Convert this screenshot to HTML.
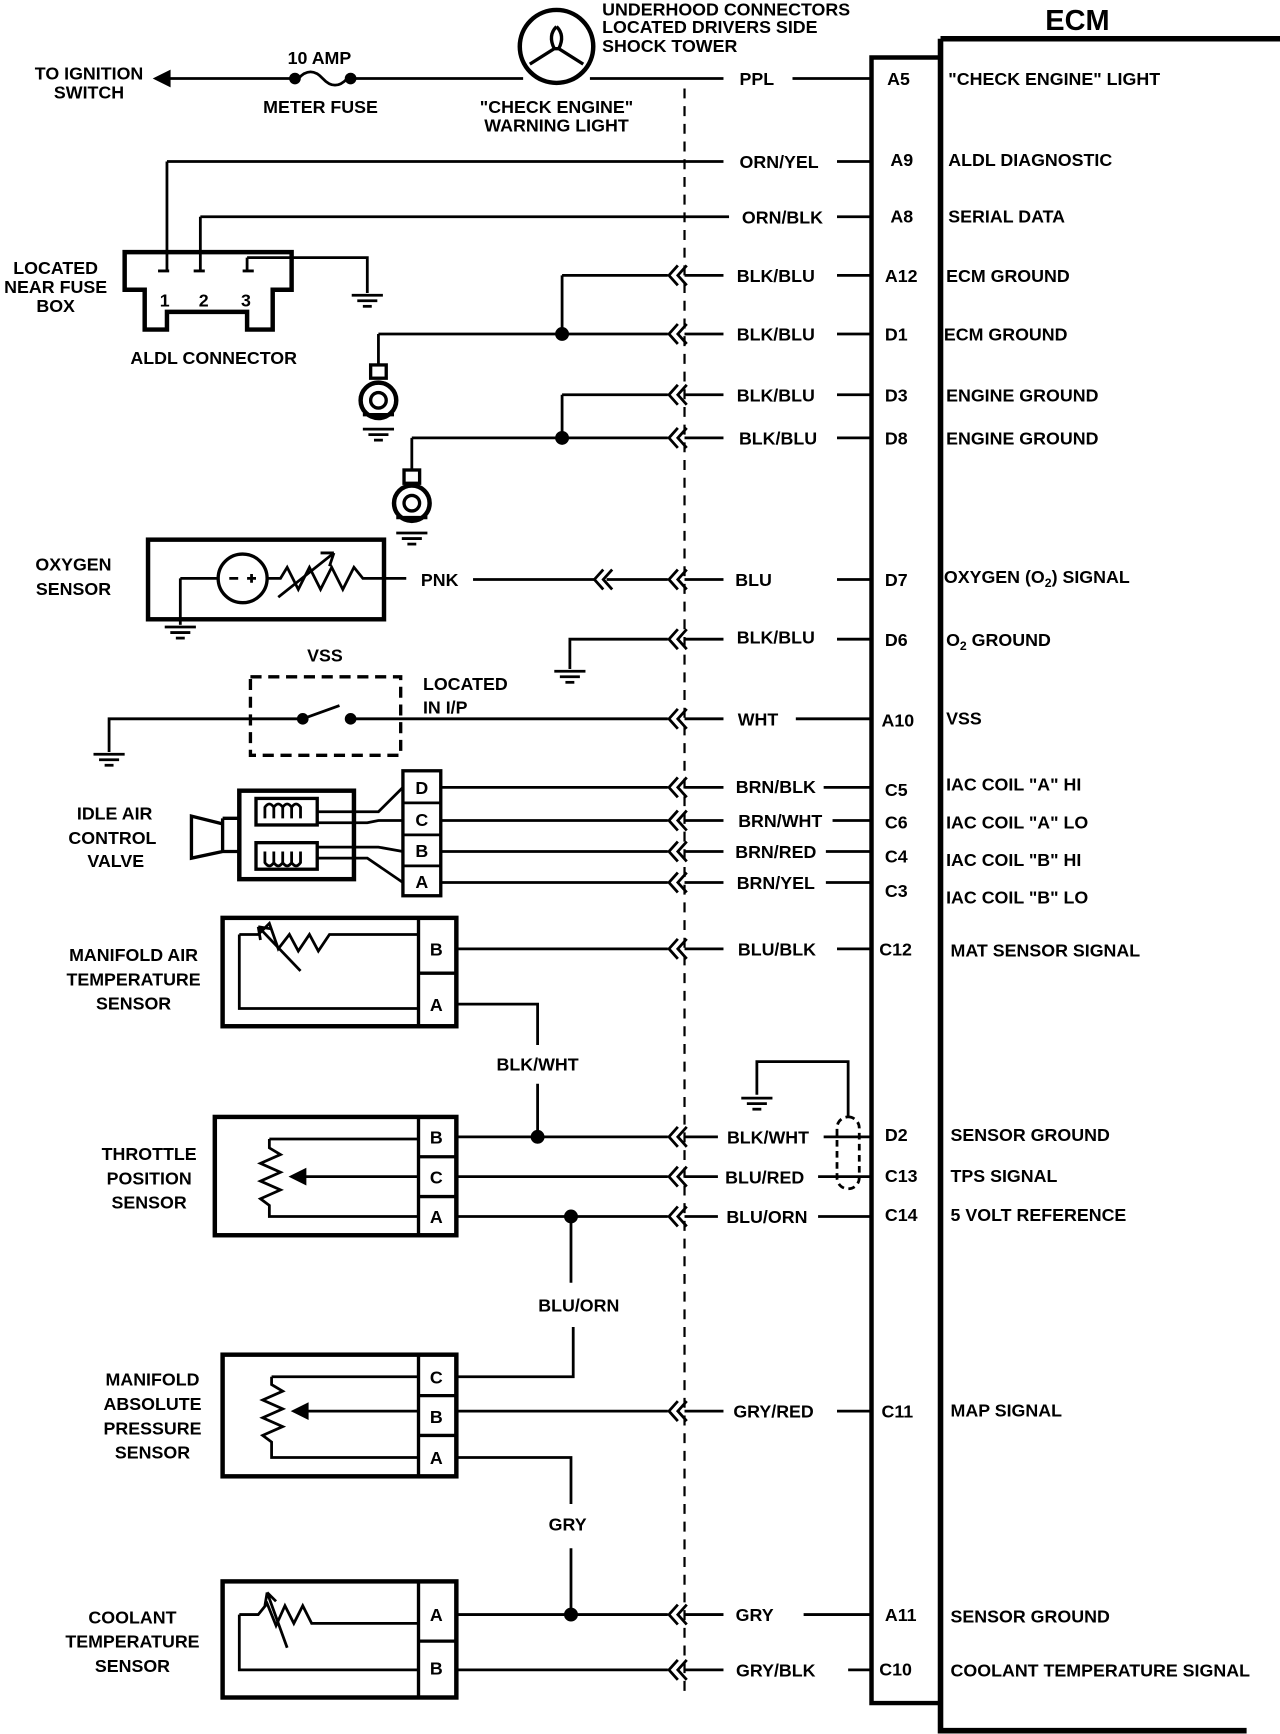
<!DOCTYPE html>
<html><head><meta charset="utf-8"><style>
html,body{margin:0;padding:0;background:#fff;}
svg{display:block;}
text{font-family:"Liberation Sans",sans-serif;font-weight:bold;font-size:16px;fill:#000;}
.m{text-anchor:middle;}
</style></head><body>
<svg width="1280" height="1734" viewBox="0 0 1150 1568" preserveAspectRatio="none" xmlns="http://www.w3.org/2000/svg">
<defs>
<g id="gnd"><line x1="-14" y1="0" x2="14" y2="0" stroke="#000" stroke-width="2.5"/><line x1="-9" y1="5" x2="9" y2="5" stroke="#000" stroke-width="2.5"/><line x1="-4" y1="10" x2="4" y2="10" stroke="#000" stroke-width="2.5"/></g>
<g id="cn"><path d="M-6,-9 L-14,0 L-6,9 M2,-9 L-6,0 L2,9" fill="none" stroke="#000" stroke-width="2.5"/></g>
</defs>
<g stroke="#000" fill="none" stroke-width="2.5">
<!-- ECM -->
<path d="M845,35 H1150 M845,35 V1565 H1120" stroke-width="5"/>
<path d="M845,52 H783 V1540 H845" stroke-width="4"/>
<line x1="615" y1="80" x2="615" y2="1535" stroke-dasharray="9,7" stroke-width="2"/>
<!-- top row -->
<path d="M140,71 H265 M315,71 H470 M530,71 H650 M712,71 H783"/>
<path d="M140,71 l12,-6 v12 z" fill="#000"/>
<circle cx="265" cy="71" r="4" fill="#000"/><circle cx="315" cy="71" r="4" fill="#000"/>
<path d="M268,71 q11,-12 22,0 q11,12 22,0"/>
<circle cx="500" cy="42" r="33" stroke-width="4"/>
<path d="M500,24 q-8,8 -2,20 l-22,14 M500,24 q8,8 2,20 l22,14 M498,44 h4" stroke-width="3"/>
<!-- ALDL -->
<path d="M150,146 H650 M752,146 H783 M180,196 H655 M752,196 H783"/>
<path d="M150,146 V245 M180,196 V245"/>
<path d="M112,228 H262 V262 H245 V298 H222 V282 H150 V298 H130 V262 H112 Z" stroke-width="4"/>
<path d="M142,245 H152 M174,245 H184 M218,245 H228 M222,233 V245 M222,233 H330 V265"/>
<use href="#gnd" x="330" y="267"/>
<!-- grounds rows -->
<path d="M505,249 V302 M340,302 H600 M505,249 H600 M505,357 V396 M370,396 H600 M505,357 H600"/>
<circle cx="505" cy="302" r="5" fill="#000"/><circle cx="505" cy="396" r="5" fill="#000"/>
<path d="M340,302 V330 M370,396 V425"/>
<rect x="333" y="330" width="14" height="12" stroke-width="3"/>
<circle cx="340" cy="362" r="16" stroke-width="4"/><circle cx="340" cy="362" r="7" stroke-width="3"/>
<path d="M326,375 H354" stroke-width="3"/>
<use href="#gnd" x="340" y="388"/>
<rect x="363" y="425" width="14" height="12" stroke-width="3"/>
<circle cx="370" cy="455" r="16" stroke-width="4"/><circle cx="370" cy="455" r="7" stroke-width="3"/>
<path d="M356,468 H384" stroke-width="3"/>
<use href="#gnd" x="370" y="482"/>
<path d="M615,249 H650 M752,249 H783 M615,302 H650 M752,302 H783 M615,357 H650 M752,357 H783 M615,396 H650 M752,396 H783"/>
<!-- O2 -->
<rect x="133" y="488" width="212" height="72" stroke-width="4"/>
<circle cx="218" cy="523" r="22" stroke-width="3"/>
<path d="M162,523 H196 M240,523 L252,523 L258,513 L268,533 L278,513 L288,533 L298,513 L308,533 L318,513 L326,523 L345,523 M345,523 H365"/>
<path d="M250,540 L300,500 M300,500 l-12,0 M300,500 l-4,12"/>
<path d="M206,523 H214 M222,523 H230 M226,519 V527"/>
<path d="M162,523 V565"/><use href="#gnd" x="162" y="567"/>
<path d="M425,524 H535 M545,524 H600 M615,524 H650 M752,524 H783"/>
<!-- D6 -->
<path d="M512,605 V578 H600 M615,578 H650 M752,578 H783"/><use href="#gnd" x="512" y="607"/>
<!-- VSS -->
<rect x="225" y="612" width="135" height="71" stroke-dasharray="10,6" stroke-width="3"/>
<path d="M98,680 V650 H272 M315,650 H600 M615,650 H650 M715,650 H783 M272,650 L305,638"/>
<circle cx="272" cy="650" r="4" fill="#000"/><circle cx="315" cy="650" r="4" fill="#000"/>
<use href="#gnd" x="98" y="682"/>
<!-- IAC -->
<rect x="215" y="715" width="103" height="80" stroke-width="4"/>
<rect x="230" y="722" width="55" height="24" stroke-width="3"/>
<rect x="230" y="762" width="55" height="24" stroke-width="3"/>
<path d="M238,740 v-10 q4,-6 8,0 v10 M246,740 v-10 q4,-6 8,0 v10 M254,740 v-10 q4,-6 8,0 v10 M262,740 v-10 q4,-6 8,0 v10"/>
<path d="M238,770 v10 q4,6 8,0 v-10 M246,770 v10 q4,6 8,0 v-10 M254,770 v10 q4,6 8,0 v-10 M262,770 v10 q4,6 8,0 v-10"/>
<path d="M200,740 H215 M200,770 H215 M200,740 V770 M200,745 L172,738 V776 L200,770" stroke-width="3"/>
<rect x="362" y="697" width="34" height="113" stroke-width="3"/>
<path d="M362,726 H396 M362,755 H396 M362,783 H396"/>
<path d="M285,734 H340 L362,712 M285,744 H330 L340,742 H362 M285,766 H340 L362,770 M285,776 H330 L362,798"/>
<path d="M396,712 H600 M396,742 H600 M396,770 H600 M396,798 H600"/>
<path d="M615,712 H650 M740,712 H783 M615,742 H650 M748,742 H783 M615,770 H650 M742,770 H783 M615,798 H650 M742,798 H783"/>
<!-- MAT -->
<rect x="200" y="830" width="210" height="98" stroke-width="4"/>
<path d="M376,830 V928 M376,880 H410" stroke-width="3"/>
<path d="M215,845 V912 H376 M215,845 H232 L242,835 L250,858 L260,845 L268,860 L278,845 L286,860 L296,845 H376"/>
<path d="M232,838 L270,878 M232,838 l12,2 M232,838 l2,12"/>
<path d="M410,858 H600 M615,858 H650 M752,858 H783 M410,908 H483 V945 M483,980 V1028"/>
<!-- TPS -->
<rect x="193" y="1010" width="217" height="107" stroke-width="4"/>
<path d="M376,1010 V1117 M376,1046 H410 M376,1082 H410" stroke-width="3"/>
<path d="M242,1030 H376 M242,1030 V1038 L252,1044 L234,1052 L252,1060 L234,1068 L252,1076 L234,1084 L242,1090 V1100 H376 M262,1064 H376"/>
<path d="M262,1064 l12,-6 v12 z" fill="#000"/>
<path d="M410,1028 H600 M410,1064 H600 M410,1100 H600"/>
<circle cx="483" cy="1028" r="5" fill="#000"/><circle cx="513" cy="1100" r="5" fill="#000"/>
<path d="M615,1028 H645 M740,1028 H783 M615,1064 H645 M735,1064 H783 M615,1100 H645 M735,1100 H783"/>
<path d="M513,1100 V1160 M515,1200 V1245 H410"/>
<!-- shield -->
<path d="M680,990 V960 H762 V1010"/><use href="#gnd" x="680" y="993"/>
<rect x="752" y="1010" width="20" height="65" rx="10" stroke-dasharray="6,4"/>
<!-- MAP -->
<rect x="200" y="1225" width="210" height="110" stroke-width="4"/>
<path d="M376,1225 V1335 M376,1262 H410 M376,1298 H410" stroke-width="3"/>
<path d="M244,1245 H376 M244,1245 V1252 L254,1258 L236,1266 L254,1274 L236,1282 L254,1290 L236,1298 L244,1304 V1318 H376 M264,1276 H376"/>
<path d="M264,1276 l12,-6 v12 z" fill="#000"/>
<path d="M410,1276 H600 M615,1276 H650 M752,1276 H783 M410,1318 H513 V1360 M513,1400 V1460"/>
<!-- coolant -->
<rect x="200" y="1430" width="210" height="105" stroke-width="4"/>
<path d="M376,1430 V1535 M376,1484 H410" stroke-width="3"/>
<path d="M215,1460 V1510 H376 M215,1460 H232 L240,1450 L248,1470 L256,1452 L264,1468 L272,1452 L280,1468 H376"/>
<path d="M240,1440 L258,1490 M240,1440 l-2,12 M240,1440 l8,8"/>
<path d="M410,1460 H600 M615,1460 H650 M722,1460 H783 M410,1510 H600 M615,1510 H650 M762,1510 H783"/>
<circle cx="513" cy="1460" r="5" fill="#000"/>
</g>
<use href="#cn" x="615" y="249"/><use href="#cn" x="615" y="302"/><use href="#cn" x="615" y="357"/><use href="#cn" x="615" y="396"/>
<use href="#cn" x="615" y="524"/><use href="#cn" x="548" y="524"/><use href="#cn" x="615" y="578"/><use href="#cn" x="615" y="650"/>
<use href="#cn" x="615" y="712"/><use href="#cn" x="615" y="742"/><use href="#cn" x="615" y="770"/><use href="#cn" x="615" y="798"/>
<use href="#cn" x="615" y="858"/><use href="#cn" x="615" y="1028"/><use href="#cn" x="615" y="1064"/><use href="#cn" x="615" y="1100"/>
<use href="#cn" x="615" y="1276"/><use href="#cn" x="615" y="1460"/><use href="#cn" x="615" y="1510"/>
<text x="968" y="27" class="m" style="font-size:26px">ECM</text>
<text x="541" y="14">UNDERHOOD CONNECTORS</text>
<text x="541" y="30">LOCATED DRIVERS SIDE</text>
<text x="541" y="47">SHOCK TOWER</text>
<text x="80" y="72" class="m">TO IGNITION</text><text x="80" y="89" class="m">SWITCH</text>
<text x="287" y="58" class="m">10 AMP</text><text x="288" y="102" class="m">METER FUSE</text>
<text x="500" y="102" class="m">"CHECK ENGINE"</text><text x="500" y="119" class="m">WARNING LIGHT</text>
<text x="50" y="248" class="m">LOCATED</text><text x="50" y="265" class="m">NEAR FUSE</text><text x="50" y="282" class="m">BOX</text>
<text x="148" y="277" class="m">1</text><text x="183" y="277" class="m">2</text><text x="221" y="277" class="m">3</text>
<text x="192" y="329" class="m">ALDL CONNECTOR</text>
<text x="66" y="516" class="m">OXYGEN</text><text x="66" y="538" class="m">SENSOR</text>
<text x="395" y="530" class="m">PNK</text>
<text x="292" y="598" class="m">VSS</text>
<text x="380" y="624">LOCATED</text><text x="380" y="645">IN I/P</text>
<text x="103" y="741" class="m">IDLE AIR</text><text x="101" y="763" class="m">CONTROL</text><text x="104" y="784" class="m">VALVE</text>
<text x="379" y="718" class="m">D</text><text x="379" y="747" class="m">C</text><text x="379" y="775" class="m">B</text><text x="379" y="803" class="m">A</text>
<text x="120" y="869" class="m">MANIFOLD AIR</text><text x="120" y="891" class="m">TEMPERATURE</text><text x="120" y="913" class="m">SENSOR</text>
<text x="392" y="864" class="m">B</text><text x="392" y="914" class="m">A</text>
<text x="483" y="968" class="m">BLK/WHT</text>
<text x="134" y="1049" class="m">THROTTLE</text><text x="134" y="1071" class="m">POSITION</text><text x="134" y="1093" class="m">SENSOR</text>
<text x="392" y="1034" class="m">B</text><text x="392" y="1070" class="m">C</text><text x="392" y="1106" class="m">A</text>
<text x="520" y="1186" class="m">BLU/ORN</text>
<text x="137" y="1253" class="m">MANIFOLD</text><text x="137" y="1275" class="m">ABSOLUTE</text><text x="137" y="1297" class="m">PRESSURE</text><text x="137" y="1319" class="m">SENSOR</text>
<text x="392" y="1251" class="m">C</text><text x="392" y="1287" class="m">B</text><text x="392" y="1324" class="m">A</text>
<text x="510" y="1384" class="m">GRY</text>
<text x="119" y="1468" class="m">COOLANT</text><text x="119" y="1490" class="m">TEMPERATURE</text><text x="119" y="1512" class="m">SENSOR</text>
<text x="392" y="1466" class="m">A</text><text x="392" y="1514" class="m">B</text>
<text x="680" y="77" class="m">PPL</text>
<text x="700" y="152" class="m">ORN/YEL</text>
<text x="703" y="202" class="m">ORN/BLK</text>
<text x="697" y="255" class="m">BLK/BLU</text>
<text x="697" y="308" class="m">BLK/BLU</text>
<text x="697" y="363" class="m">BLK/BLU</text>
<text x="699" y="402" class="m">BLK/BLU</text>
<text x="677" y="530" class="m">BLU</text>
<text x="697" y="582" class="m">BLK/BLU</text>
<text x="681" y="656" class="m">WHT</text>
<text x="697" y="717" class="m">BRN/BLK</text>
<text x="701" y="748" class="m">BRN/WHT</text>
<text x="697" y="776" class="m">BRN/RED</text>
<text x="697" y="804" class="m">BRN/YEL</text>
<text x="698" y="864" class="m">BLU/BLK</text>
<text x="690" y="1034" class="m">BLK/WHT</text>
<text x="687" y="1070" class="m">BLU/RED</text>
<text x="689" y="1106" class="m">BLU/ORN</text>
<text x="695" y="1282" class="m">GRY/RED</text>
<text x="678" y="1466" class="m">GRY</text>
<text x="697" y="1516" class="m">GRY/BLK</text>
<text x="797" y="77">A5</text><text x="800" y="150">A9</text><text x="800" y="201">A8</text><text x="795" y="255">A12</text>
<text x="795" y="308">D1</text><text x="795" y="363">D3</text><text x="795" y="402">D8</text><text x="795" y="530">D7</text>
<text x="795" y="584">D6</text><text x="792" y="657">A10</text><text x="795" y="720">C5</text><text x="795" y="749">C6</text>
<text x="795" y="780">C4</text><text x="795" y="811">C3</text><text x="790" y="864">C12</text><text x="795" y="1032">D2</text>
<text x="795" y="1069">C13</text><text x="795" y="1104">C14</text><text x="792" y="1282">C11</text><text x="795" y="1466">A11</text>
<text x="790" y="1515">C10</text>
<text x="852" y="77">"CHECK ENGINE" LIGHT</text>
<text x="852" y="150">ALDL DIAGNOSTIC</text>
<text x="852" y="201">SERIAL DATA</text>
<text x="850" y="255">ECM GROUND</text>
<text x="848" y="308">ECM GROUND</text>
<text x="850" y="363">ENGINE GROUND</text>
<text x="850" y="402">ENGINE GROUND</text>
<text x="848" y="527">OXYGEN (O<tspan style="font-size:11px" dy="4">2</tspan><tspan dy="-4">) SIGNAL</tspan></text>
<text x="850" y="584">O<tspan style="font-size:11px" dy="4">2</tspan><tspan dy="-4"> GROUND</tspan></text>
<text x="850" y="655">VSS</text>
<text x="850" y="715">IAC  COIL "A" HI</text>
<text x="850" y="749">IAC  COIL "A" LO</text>
<text x="850" y="783">IAC  COIL "B" HI</text>
<text x="850" y="817">IAC  COIL "B" LO</text>
<text x="854" y="865">MAT SENSOR SIGNAL</text>
<text x="854" y="1032">SENSOR GROUND</text>
<text x="854" y="1069">TPS SIGNAL</text>
<text x="854" y="1104">5 VOLT REFERENCE</text>
<text x="854" y="1281">MAP SIGNAL</text>
<text x="854" y="1467">SENSOR GROUND</text>
<text x="854" y="1516">COOLANT TEMPERATURE SIGNAL</text>
</svg>
</body></html>
